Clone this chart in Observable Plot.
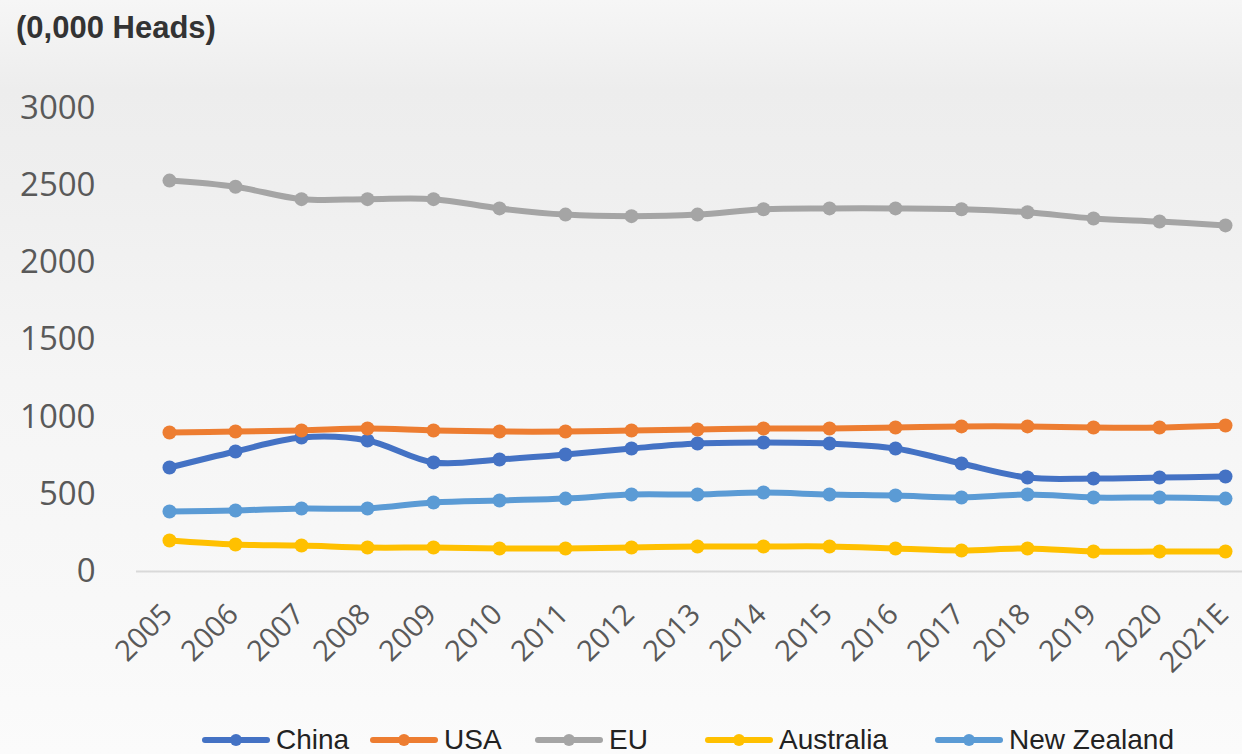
<!DOCTYPE html>
<html>
<head>
<meta charset="utf-8">
<script src="https://cdn.jsdelivr.net/npm/d3@7"></script>
<script src="https://cdn.jsdelivr.net/npm/@observablehq/plot@0.6"></script>
<style>
  html, body { margin: 0; padding: 0; }
  body {
    width: 1242px; height: 754px; overflow: hidden;
    background: linear-gradient(to bottom, #f6f6f6 0px, #ededed 90px, #efefef 190px, #f5f5f5 380px, #f8f8f8 600px, #fbfbfb 754px);
  }
  #title {
    height: 60px; box-sizing: border-box; padding: 10px 0 0 16px;
    font: bold 31px/36px "Liberation Sans", Arial, sans-serif; color: #333;
  }
  #chart { height: 640px; }
  #legend {
    height: 54px; box-sizing: border-box; padding: 26px 0 0 202px;
    display: flex; align-items: center; white-space: nowrap;
    font: 28px/28px "Liberation Sans", Arial, sans-serif; color: #222;
  }
  .item { display: flex; align-items: center; }
  .item svg { margin-right: 6px; }
</style>
</head>
<body>
<div id="title">(0,000 Heads)</div>
<div id="chart"></div>
<div id="legend"></div>
<script>
// Stock, in units of 10,000 head
const years = ["2005", "2006", "2007", "2008", "2009", "2010", "2011", "2012", "2013",
               "2014", "2015", "2016", "2017", "2018", "2019", "2020", "2021E"];
const china      = [673, 777, 867, 848, 706, 725, 757, 796, 828, 835, 828, 796, 699, 608, 602, 608, 615];
const usa        = [900, 906, 913, 926, 913, 906, 906, 913, 919, 926, 926, 932, 939, 939, 932, 932, 945];
const eu         = [2530, 2490, 2410, 2410, 2410, 2350, 2310, 2300, 2310, 2345, 2350, 2350, 2345, 2325, 2285, 2265, 2240];
const australia  = [201, 175, 168, 155, 155, 149, 149, 155, 162, 162, 162, 149, 136, 149, 129, 129, 129];
const newZealand = [388, 395, 408, 408, 447, 460, 472, 498, 498, 511, 498, 492, 479, 498, 479, 479, 472];

const seriesNames  = ["China", "USA", "EU", "Australia", "New Zealand"];
const seriesColors = ["#4472C4", "#ED7D31", "#A5A5A5", "#FFC000", "#5B9BD5"];
const yTicks = [0, 500, 1000, 1500, 2000, 2500, 3000];

// legend slot widths (px) for the first four entries
const legendSlots = [168, 165, 170, 230];

const seriesValues = [china, usa, eu, australia, newZealand];
const rows = seriesNames.flatMap((name, i) =>
  years.map((year, j) => ({series: name, year, value: seriesValues[i][j]})));

const tickFont = "'Open Sans', 'Noto Sans', sans-serif";

const chart = Plot.plot({
  width: 1242,
  height: 640,
  marginTop: 47.5,
  marginBottom: 129,
  marginLeft: 168,
  marginRight: 17,
  style: {background: "transparent", overflow: "visible", fontFamily: tickFont},
  x: {type: "point", domain: years, padding: 0, axis: null},
  y: {domain: [0, 3000], label: null},
  color: {domain: seriesNames, range: seriesColors},
  marks: [
    Plot.ruleY([0], {stroke: "#d9d9d9", strokeWidth: 2, insetLeft: -32, insetRight: -17}),
    Plot.axisY(yTicks, {tickSize: 0, tickPadding: 73, fontSize: 33, fill: "#595959",
                        label: null, tickFormat: d => String(d)}),
    Plot.text(years, {
      x: d => d, frameAnchor: "bottom", rotate: -45,
      textAnchor: "end", lineAnchor: "middle",
      dx: -2, dy: 38, fontSize: 29, fill: "#595959"
    }),
    // each series draws its line then its markers, later series on top
    ...seriesNames.flatMap(name => {
      const data = rows.filter(d => d.series === name);
      return [
        Plot.line(data, {x: "year", y: "value", stroke: "series", strokeWidth: 6,
                         curve: "catmull-rom", strokeLinejoin: "round"}),
        Plot.dot(data, {x: "year", y: "value", fill: "series", r: 7})
      ];
    })
  ]
});
document.getElementById("chart").append(chart);

// legend: line-with-marker swatch and series name
const legend = d3.select("#legend");
seriesNames.forEach((name, i) => {
  const item = legend.append("div").attr("class", "item");
  if (i < legendSlots.length) item.style("width", legendSlots[i] + "px");
  const sw = item.append("svg").attr("width", 68).attr("height", 14);
  sw.append("line").attr("x1", 3).attr("x2", 65).attr("y1", 7).attr("y2", 7)
    .attr("stroke", seriesColors[i]).attr("stroke-width", 6).attr("stroke-linecap", "round");
  sw.append("circle").attr("cx", 34).attr("cy", 7).attr("r", 6).attr("fill", seriesColors[i]);
  item.append("span").text(name);
});
</script>
</body>
</html>
